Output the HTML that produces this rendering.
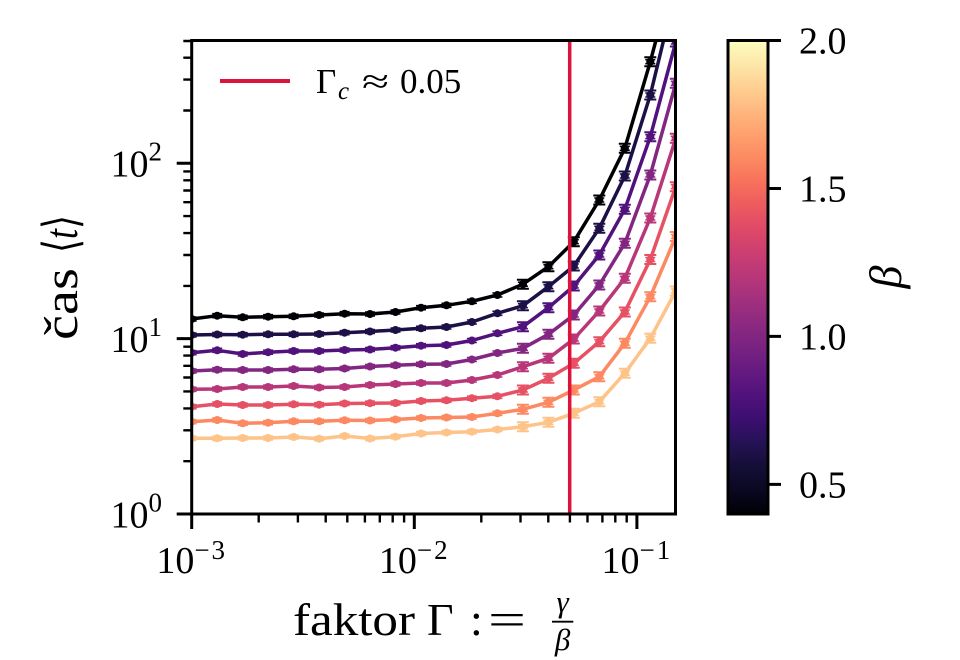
<!DOCTYPE html>
<html>
<head>
<meta charset="utf-8">
<style>
html,body{margin:0;padding:0;background:#fff;}
svg{display:block;}
text{font-family:"Liberation Serif","DejaVu Serif",serif;fill:#000;}
</style>
</head>
<body>
<svg width="960" height="660" viewBox="0 0 960 660" xmlns="http://www.w3.org/2000/svg">
<defs>
  <clipPath id="clip"><rect x="191.7" y="40.5" width="483.8" height="473.5"/></clipPath>
  <linearGradient id="magma" x1="0" y1="1" x2="0" y2="0">
    <stop offset="0" stop-color="#000004"/>
    <stop offset="0.05" stop-color="#0a0822"/>
    <stop offset="0.1" stop-color="#140e36"/>
    <stop offset="0.15" stop-color="#251255"/>
    <stop offset="0.2" stop-color="#3b0f70"/>
    <stop offset="0.25" stop-color="#51127c"/>
    <stop offset="0.3" stop-color="#641a80"/>
    <stop offset="0.35" stop-color="#782281"/>
    <stop offset="0.4" stop-color="#8c2981"/>
    <stop offset="0.45" stop-color="#a1307e"/>
    <stop offset="0.5" stop-color="#b73779"/>
    <stop offset="0.55" stop-color="#cb3e72"/>
    <stop offset="0.6" stop-color="#de4968"/>
    <stop offset="0.65" stop-color="#ed5a5f"/>
    <stop offset="0.7" stop-color="#f7705c"/>
    <stop offset="0.75" stop-color="#fc8961"/>
    <stop offset="0.8" stop-color="#fe9f6d"/>
    <stop offset="0.85" stop-color="#feb77e"/>
    <stop offset="0.9" stop-color="#fecf92"/>
    <stop offset="0.95" stop-color="#fde7a9"/>
    <stop offset="1" stop-color="#fcfdbf"/>
  </linearGradient>

  <marker id="a1" markerUnits="userSpaceOnUse" markerWidth="20" markerHeight="20" refX="10" refY="10" overflow="visible"><circle cx="10" cy="10" r="4" fill="#000004"/><path d="M5 8h10M5 12h10" stroke="#000004" stroke-width="1.6"/></marker>
  <marker id="b1" markerUnits="userSpaceOnUse" markerWidth="20" markerHeight="20" refX="10" refY="10" overflow="visible"><circle cx="10" cy="10" r="4" fill="#000004"/><path d="M4 5.5h12M4 14.5h12M10 5.5v9" stroke="#000004" stroke-width="2"/></marker>
  <marker id="a2" markerUnits="userSpaceOnUse" markerWidth="20" markerHeight="20" refX="10" refY="10" overflow="visible"><circle cx="10" cy="10" r="4" fill="#1c1046"/><path d="M5 8h10M5 12h10" stroke="#1c1046" stroke-width="1.6"/></marker>
  <marker id="b2" markerUnits="userSpaceOnUse" markerWidth="20" markerHeight="20" refX="10" refY="10" overflow="visible"><circle cx="10" cy="10" r="4" fill="#1c1046"/><path d="M4 5.5h12M4 14.5h12M10 5.5v9" stroke="#1c1046" stroke-width="2"/></marker>
  <marker id="a3" markerUnits="userSpaceOnUse" markerWidth="20" markerHeight="20" refX="10" refY="10" overflow="visible"><circle cx="10" cy="10" r="4" fill="#51127c"/><path d="M5 8h10M5 12h10" stroke="#51127c" stroke-width="1.6"/></marker>
  <marker id="b3" markerUnits="userSpaceOnUse" markerWidth="20" markerHeight="20" refX="10" refY="10" overflow="visible"><circle cx="10" cy="10" r="4" fill="#51127c"/><path d="M4 5.5h12M4 14.5h12M10 5.5v9" stroke="#51127c" stroke-width="2"/></marker>
  <marker id="a4" markerUnits="userSpaceOnUse" markerWidth="20" markerHeight="20" refX="10" refY="10" overflow="visible"><circle cx="10" cy="10" r="4" fill="#822681"/><path d="M5 8h10M5 12h10" stroke="#822681" stroke-width="1.6"/></marker>
  <marker id="b4" markerUnits="userSpaceOnUse" markerWidth="20" markerHeight="20" refX="10" refY="10" overflow="visible"><circle cx="10" cy="10" r="4" fill="#822681"/><path d="M4 5.5h12M4 14.5h12M10 5.5v9" stroke="#822681" stroke-width="2"/></marker>
  <marker id="a5" markerUnits="userSpaceOnUse" markerWidth="20" markerHeight="20" refX="10" refY="10" overflow="visible"><circle cx="10" cy="10" r="4" fill="#b73779"/><path d="M5 8h10M5 12h10" stroke="#b73779" stroke-width="1.6"/></marker>
  <marker id="b5" markerUnits="userSpaceOnUse" markerWidth="20" markerHeight="20" refX="10" refY="10" overflow="visible"><circle cx="10" cy="10" r="4" fill="#b73779"/><path d="M4 5.5h12M4 14.5h12M10 5.5v9" stroke="#b73779" stroke-width="2"/></marker>
  <marker id="a6" markerUnits="userSpaceOnUse" markerWidth="20" markerHeight="20" refX="10" refY="10" overflow="visible"><circle cx="10" cy="10" r="4" fill="#e65164"/><path d="M5 8h10M5 12h10" stroke="#e65164" stroke-width="1.6"/></marker>
  <marker id="b6" markerUnits="userSpaceOnUse" markerWidth="20" markerHeight="20" refX="10" refY="10" overflow="visible"><circle cx="10" cy="10" r="4" fill="#e65164"/><path d="M4 5.5h12M4 14.5h12M10 5.5v9" stroke="#e65164" stroke-width="2"/></marker>
  <marker id="a7" markerUnits="userSpaceOnUse" markerWidth="20" markerHeight="20" refX="10" refY="10" overflow="visible"><circle cx="10" cy="10" r="4" fill="#fc8961"/><path d="M5 8h10M5 12h10" stroke="#fc8961" stroke-width="1.6"/></marker>
  <marker id="b7" markerUnits="userSpaceOnUse" markerWidth="20" markerHeight="20" refX="10" refY="10" overflow="visible"><circle cx="10" cy="10" r="4" fill="#fc8961"/><path d="M4 5.5h12M4 14.5h12M10 5.5v9" stroke="#fc8961" stroke-width="2"/></marker>
  <marker id="a8" markerUnits="userSpaceOnUse" markerWidth="20" markerHeight="20" refX="10" refY="10" overflow="visible"><circle cx="10" cy="10" r="4" fill="#fec388"/><path d="M5 8h10M5 12h10" stroke="#fec388" stroke-width="1.6"/></marker>
  <marker id="b8" markerUnits="userSpaceOnUse" markerWidth="20" markerHeight="20" refX="10" refY="10" overflow="visible"><circle cx="10" cy="10" r="4" fill="#fec388"/><path d="M4 5.5h12M4 14.5h12M10 5.5v9" stroke="#fec388" stroke-width="2"/></marker>
</defs>

<rect width="960" height="660" fill="#fff"/>

<g clip-path="url(#clip)" fill="none" stroke-width="3.5" stroke-linejoin="round">
  <polyline stroke="#000004" marker-start="url(#a1)" marker-mid="url(#a1)" marker-end="url(#a1)" points="191.7,319 217.2,315.7 242.7,317.3 268.1,316.7 293.6,316.3 319.1,315 344.6,313.7 370,314 395.5,312 421,307.7 446.5,305.3 471.9,301.3 497.4,295 522.9,284.2 548.4,266.7 573.8,241.7 599.3,200 624.8,148.3 650.3,61.7 675.8,-35"/>
  <polyline stroke="none" marker-start="url(#b1)" marker-mid="url(#b1)" marker-end="url(#b1)" points="522.9,284.2 548.4,266.7 573.8,241.7 599.3,200 624.8,148.3 650.3,61.7 675.8,-35"/>
  <polyline stroke="#1c1046" marker-start="url(#a2)" marker-mid="url(#a2)" marker-end="url(#a2)" points="191.7,335 217.2,334.5 242.7,334.7 268.1,334.3 293.6,334.3 319.1,334 344.6,332.7 370,331.5 395.5,330 421,328.3 446.5,327 471.9,322 497.4,313.3 522.9,305.7 548.4,286.7 573.8,266 599.3,228.3 624.8,176 650.3,95 675.8,-10"/>
  <polyline stroke="none" marker-start="url(#b2)" marker-mid="url(#b2)" marker-end="url(#b2)" points="522.9,305.7 548.4,286.7 573.8,266 599.3,228.3 624.8,176 650.3,95 675.8,-10"/>
  <polyline stroke="#51127c" marker-start="url(#a3)" marker-mid="url(#a3)" marker-end="url(#a3)" points="191.7,352.7 217.2,350.3 242.7,354 268.1,352.2 293.6,351 319.1,351 344.6,350 370,349.5 395.5,347.7 421,345.7 446.5,345 471.9,340.5 497.4,333.3 522.9,326.7 548.4,307.7 573.8,286 599.3,255 624.8,209.3 650.3,136.7 675.8,42"/>
  <polyline stroke="none" marker-start="url(#b3)" marker-mid="url(#b3)" marker-end="url(#b3)" points="522.9,326.7 548.4,307.7 573.8,286 599.3,255 624.8,209.3 650.3,136.7 675.8,42"/>
  <polyline stroke="#822681" marker-start="url(#a4)" marker-mid="url(#a4)" marker-end="url(#a4)" points="191.7,371 217.2,369.7 242.7,370 268.1,370 293.6,369.3 319.1,369.3 344.6,368.5 370,366.5 395.5,365.3 421,364.3 446.5,364 471.9,359.5 497.4,353 522.9,348.3 548.4,334.3 573.8,315 599.3,285 624.8,243.3 650.3,175 675.8,83.3"/>
  <polyline stroke="none" marker-start="url(#b4)" marker-mid="url(#b4)" marker-end="url(#b4)" points="522.9,348.3 548.4,334.3 573.8,315 599.3,285 624.8,243.3 650.3,175 675.8,83.3"/>
  <polyline stroke="#b73779" marker-start="url(#a5)" marker-mid="url(#a5)" marker-end="url(#a5)" points="191.7,389.3 217.2,389 242.7,387 268.1,387 293.6,386 319.1,387.5 344.6,387 370,385 395.5,384 421,383 446.5,383 471.9,380 497.4,375 522.9,366.7 548.4,358.3 573.8,339 599.3,311 624.8,278.3 650.3,218 675.8,138.3"/>
  <polyline stroke="none" marker-start="url(#b5)" marker-mid="url(#b5)" marker-end="url(#b5)" points="522.9,366.7 548.4,358.3 573.8,339 599.3,311 624.8,278.3 650.3,218 675.8,138.3"/>
  <polyline stroke="#e65164" marker-start="url(#a6)" marker-mid="url(#a6)" marker-end="url(#a6)" points="191.7,406.7 217.2,404 242.7,405 268.1,405 293.6,404.3 319.1,404.7 344.6,403.5 370,403.2 395.5,403 421,401 446.5,400.3 471.9,398.2 497.4,396.3 522.9,390 548.4,378.3 573.8,363.3 599.3,341.7 624.8,312 650.3,259.5 675.8,186.7"/>
  <polyline stroke="none" marker-start="url(#b6)" marker-mid="url(#b6)" marker-end="url(#b6)" points="522.9,390 548.4,378.3 573.8,363.3 599.3,341.7 624.8,312 650.3,259.5 675.8,186.7"/>
  <polyline stroke="#fc8961" marker-start="url(#a7)" marker-mid="url(#a7)" marker-end="url(#a7)" points="191.7,421.7 217.2,420 242.7,423.3 268.1,422.7 293.6,421.3 319.1,421.3 344.6,420.3 370,420.5 395.5,419.5 421,418 446.5,417.5 471.9,417 497.4,413.3 522.9,409.3 548.4,402.3 573.8,390 599.3,376.7 624.8,343.3 650.3,296.7 675.8,236.5"/>
  <polyline stroke="none" marker-start="url(#b7)" marker-mid="url(#b7)" marker-end="url(#b7)" points="522.9,409.3 548.4,402.3 573.8,390 599.3,376.7 624.8,343.3 650.3,296.7 675.8,236.5"/>
  <polyline stroke="#fec388" marker-start="url(#a8)" marker-mid="url(#a8)" marker-end="url(#a8)" points="191.7,438.3 217.2,438.3 242.7,438 268.1,438 293.6,437 319.1,438.7 344.6,436 370,438.5 395.5,436.7 421,433.5 446.5,432.5 471.9,431.7 497.4,429.5 522.9,426.7 548.4,422.3 573.8,413.3 599.3,401.7 624.8,373.3 650.3,338.3 675.8,291"/>
  <polyline stroke="none" marker-start="url(#b8)" marker-mid="url(#b8)" marker-end="url(#b8)" points="522.9,426.7 548.4,422.3 573.8,413.3 599.3,401.7 624.8,373.3 650.3,338.3 675.8,291"/>

  <line x1="569.7" y1="40" x2="569.7" y2="514" stroke="#dc143c" stroke-width="3.5"/>
</g>

<g stroke="#000" fill="none">
  <path stroke-width="3" d="M176.7 514H191.7M176.7 338.65H191.7M176.7 163.3H191.7M191.7 514V529M414.3 514V529M636.9 514V529"/>
  <path stroke-width="2.4" d="M183.3 461.2H191.7M183.3 430.3H191.7M183.3 408.4H191.7M183.3 391.4H191.7M183.3 377.5H191.7M183.3 365.8H191.7M183.3 355.6H191.7M183.3 346.7H191.7M183.3 285.9H191.7M183.3 255H191.7M183.3 233.1H191.7M183.3 216.1H191.7M183.3 202.2H191.7M183.3 190.5H191.7M183.3 180.3H191.7M183.3 171.4H191.7M183.3 110.5H191.7M183.3 79.6H191.7M183.3 57.7H191.7M183.3 41H191.7
  M258.7 514V522.5M297.9 514V522.5M325.7 514V522.5M347.3 514V522.5M364.9 514V522.5M379.8 514V522.5M392.7 514V522.5M404.1 514V522.5M481.3 514V522.5M520.5 514V522.5M548.3 514V522.5M569.9 514V522.5M587.5 514V522.5M602.4 514V522.5M615.3 514V522.5M626.7 514V522.5"/>
  <rect x="191.7" y="40.5" width="483.8" height="473.5" stroke-width="3"/>
</g>

<text x="162" y="176.7" text-anchor="end" font-size="38">10<tspan dy="-16" font-size="27">2</tspan></text>
<text x="162" y="352" text-anchor="end" font-size="38">10<tspan dy="-16" font-size="27">1</tspan></text>
<text x="162" y="527.4" text-anchor="end" font-size="38">10<tspan dy="-16" font-size="27">0</tspan></text>

<text x="191.7" y="573" text-anchor="middle" font-size="38">10<tspan dy="-14" font-size="27" letter-spacing="2">−3</tspan></text>
<text x="414.3" y="573" text-anchor="middle" font-size="38">10<tspan dy="-14" font-size="27" letter-spacing="2">−2</tspan></text>
<text x="636.9" y="573" text-anchor="middle" font-size="38">10<tspan dy="-14" font-size="27" letter-spacing="2">−1</tspan></text>

<text x="293" y="635" font-size="46" textLength="122" lengthAdjust="spacingAndGlyphs">faktor</text>
<text x="427" y="635" font-size="46">Γ</text>
<text x="470" y="635" font-size="46">:</text>
<text x="488" y="635" font-size="46" textLength="38" lengthAdjust="spacingAndGlyphs">=</text>
<line x1="552" y1="621.7" x2="573.3" y2="621.7" stroke="#000" stroke-width="1.8"/>
<text x="562.6" y="612" font-size="31" font-style="italic" text-anchor="middle">γ</text>
<text x="562.6" y="650" font-size="31" font-style="italic" text-anchor="middle">β</text>

<g transform="translate(77,0) rotate(-90)">
  <text x="-340" y="0" font-size="48" textLength="72" lengthAdjust="spacingAndGlyphs">čas</text>
  <text x="-253" y="0" font-size="48" textLength="38" lengthAdjust="spacingAndGlyphs">⟨<tspan font-style="italic">t</tspan>⟩</text>
</g>

<line x1="220" y1="81" x2="290" y2="81" stroke="#dc143c" stroke-width="4"/>
<text x="316" y="93" font-size="35">Γ</text>
<text x="338" y="99" font-size="25" font-style="italic">c</text>
<text x="362" y="93" font-size="35" textLength="27" lengthAdjust="spacingAndGlyphs">≈</text>
<text x="400" y="93" font-size="35">0.05</text>

<rect x="728" y="40.5" width="40" height="473.5" fill="url(#magma)" stroke="#000" stroke-width="3"/>
<path stroke="#000" stroke-width="3" d="M768 40.5H781M768 188.5H781M768 336.4H781M768 484.4H781"/>
<text x="799" y="53.5" font-size="38">2.0</text>
<text x="799" y="201.5" font-size="38">1.5</text>
<text x="799" y="349.4" font-size="38">1.0</text>
<text x="799" y="497.4" font-size="38">0.5</text>
<text transform="translate(901,277) rotate(-90)" text-anchor="middle" font-size="46" font-style="italic">β</text>
</svg>
</body>
</html>
